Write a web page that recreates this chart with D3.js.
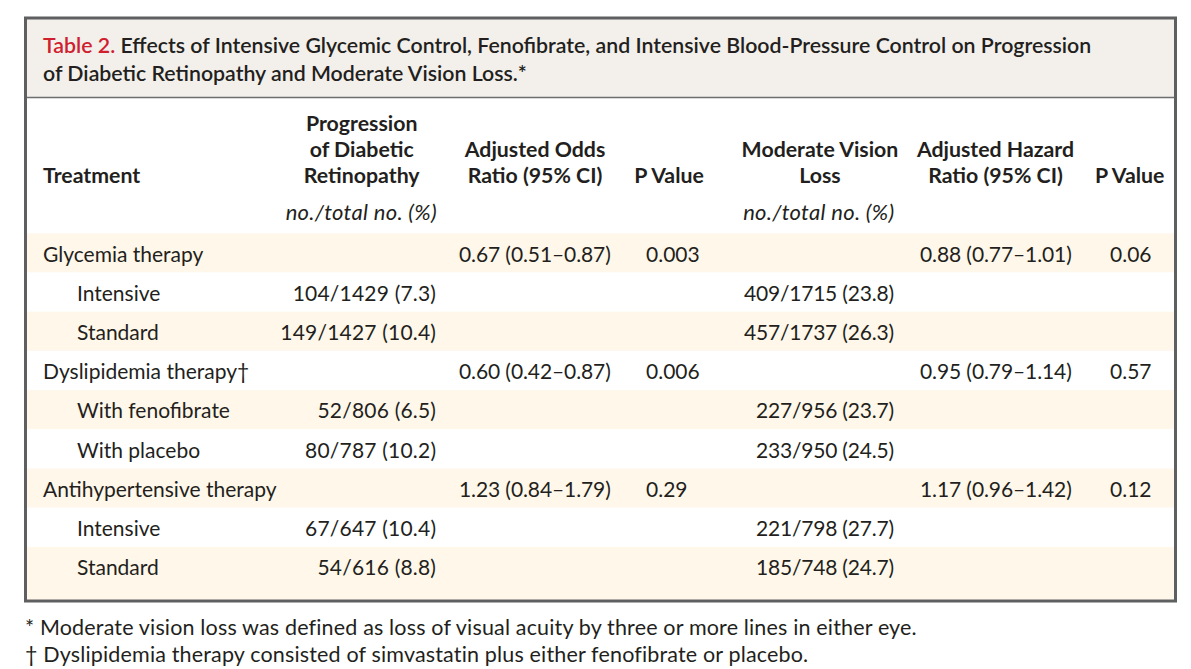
<!DOCTYPE html>
<html><head><meta charset="utf-8">
<script src="https://cdn.jsdelivr.net/npm/d3@7/dist/d3.min.js"></script>
<style>
html,body{margin:0;padding:0;background:#fff;}
svg{display:block;}
text{font-family:Lato,"Open Sans",sans-serif;fill:#231f20;}
</style></head><body>
<svg id="t" width="1191" height="669"></svg>
<script>
// ---- data ----
const groups = ["Glycemia therapy", "Dyslipidemia therapy\u2020", "Antihypertensive therapy"];
const subgroups = [["Intensive", "Standard"], ["With fenofibrate", "With placebo"], ["Intensive", "Standard"]];
const retinopathyNo = [[104, 149], [52, 80], [67, 54]];
const retinopathyTotal = [[1429, 1427], [806, 787], [647, 616]];
const retinopathyPct = [[7.3, 10.4], [6.5, 10.2], [10.4, 8.8]];
const oddsRatio = [0.67, 0.60, 1.23];
const oddsLow = [0.51, 0.42, 0.84];
const oddsHigh = [0.87, 0.87, 1.79];
const oddsP = ["0.003", "0.006", "0.29"];
const visionNo = [[409, 457], [227, 233], [221, 185]];
const visionTotal = [[1715, 1737], [956, 950], [798, 748]];
const visionPct = [[23.8, 26.3], [23.7, 24.5], [27.7, 24.7]];
const hazardRatio = [0.88, 0.95, 1.17];
const hazardLow = [0.77, 0.79, 0.96];
const hazardHigh = [1.01, 1.14, 1.42];
const hazardP = ["0.06", "0.57", "0.12"];
const columnHeaders = [
  ["Treatment"],
  ["Progression", "of Diabetic", "Retinopathy"],
  ["Adjusted Odds", "Ratio (95% CI)"],
  ["P Value"],
  ["Moderate Vision", "Loss"],
  ["Adjusted Hazard", "Ratio (95% CI)"],
  ["P Value"]
];
const unitLabel = "no./total no. (%)";
const titleLead = "Table 2.";
const titleLines = [" Effects of Intensive Glycemic Control, Fenofibrate, and Intensive Blood-Pressure Control on Progression",
  "of Diabetic Retinopathy and Moderate Vision Loss.*"];
const footnotes = ["* Moderate vision loss was defined as loss of visual acuity by three or more lines in either eye.",
  "\u2020 Dyslipidemia therapy consisted of simvastatin plus either fenofibrate or placebo."];

// ---- build rows ----
const f2 = d3.format(".2f"), f1 = d3.format(".1f");
const rows = [];
groups.forEach((g, i) => {
  rows.push({label: g, indent: false,
    c2: f2(oddsRatio[i]) + " (" + f2(oddsLow[i]) + "\u2013" + f2(oddsHigh[i]) + ")",
    c3: oddsP[i],
    c5: f2(hazardRatio[i]) + " (" + f2(hazardLow[i]) + "\u2013" + f2(hazardHigh[i]) + ")",
    c6: hazardP[i]});
  subgroups[i].forEach((s, j) => {
    rows.push({label: s, indent: true,
      c1: retinopathyNo[i][j] + "/" + retinopathyTotal[i][j] + " (" + f1(retinopathyPct[i][j]) + ")",
      c4: visionNo[i][j] + "/" + visionTotal[i][j] + " (" + f1(visionPct[i][j]) + ")"});
  });
});

// ---- layout ----
const svg = d3.select("#t");
const frame = {x0: 25.5, x1: 1175.5, y0: 18, y1: 601};
const cream = "#fff7e9";

// title box
svg.append("rect").attr("x", frame.x0).attr("y", frame.y0).attr("width", frame.x1 - frame.x0).attr("height", 79)
  .attr("fill", "#f3f0eb");
svg.append("line").attr("x1", frame.x0).attr("x2", frame.x1).attr("y1", 97.5).attr("y2", 97.5)
  .attr("stroke", "#6d6e70").attr("stroke-width", 1.3);

// rows
const y = d3.scaleBand().domain(d3.range(rows.length)).range([233.3, 233.3 + 39.2 * rows.length]);
svg.append("g").selectAll("rect").data(rows).join("rect")
  .attr("x", frame.x0).attr("width", frame.x1 - frame.x0)
  .attr("y", (d, i) => y(i))
  .attr("height", (d, i) => i === rows.length - 1 ? frame.y1 - y(i) : y.bandwidth())
  .attr("fill", (d, i) => i % 2 === 0 ? cream : "#ffffff");

// frame
svg.append("rect").attr("x", frame.x0).attr("y", frame.y0).attr("width", frame.x1 - frame.x0)
  .attr("height", frame.y1 - frame.y0).attr("fill", "none").attr("stroke", "#5e5f61").attr("stroke-width", 3);

// title
const tt = svg.append("text").attr("x", 43).attr("y", 52.5).style("font-size", "21.3px").style("font-weight", 600);
tt.append("tspan").text(titleLead).style("fill", "#d0202e");
tt.append("tspan").text(titleLines[0]);
svg.append("text").attr("x", 43).attr("y", 80.5).style("font-size", "21.3px").style("font-weight", 600).text(titleLines[1]);

// columns: anchor x and alignment
const colX = d3.scaleOrdinal().domain(d3.range(7)).range([43, 361.7, 535, 669, 820, 995.5, 1129.7]);
const headerBase = 182.5, lineH = 26;
columnHeaders.forEach((lines, c) => {
  const t = svg.append("text").attr("x", colX(c)).attr("text-anchor", c === 0 ? "start" : "middle")
    .style("font-size", "21.3px").style("font-weight", 700);
  lines.forEach((l, k) => {
    t.append("tspan").attr("x", colX(c)).attr("y", headerBase - (lines.length - 1 - k) * lineH).text(l);
  });
});
[[1, 361.3], [4, 818.8]].forEach(([c, cx]) => {
  svg.append("text").attr("x", cx).attr("y", 220).attr("text-anchor", "middle")
    .style("font-size", "22px").style("font-style", "italic").style("letter-spacing", "0.3px").text(unitLabel);
});

// cell text
const cellSpec = [
  {key: "c1", x: 436, anchor: "end", ls: 0.2},
  {key: "c2", x: 459, anchor: "start", ls: -0.1},
  {key: "c3", x: 646, anchor: "start", ls: 0},
  {key: "c4", x: 894, anchor: "end", ls: -0.2},
  {key: "c5", x: 920, anchor: "start", ls: -0.1},
  {key: "c6", x: 1110, anchor: "start", ls: 0}
];
const body = svg.append("g").style("font-size", "21px");
const baseOff = y.bandwidth() / 2 + 8.7;
body.selectAll("text.lab").data(rows).join("text").attr("class", "lab")
  .attr("x", d => d.indent ? 77 : 43)
  .attr("y", (d, i) => y(i) + baseOff)
  .text(d => d.label);
cellSpec.forEach(s => {
  body.selectAll("text." + s.key).data(rows.filter(r => r[s.key])).join("text").attr("class", s.key)
    .attr("x", s.anchor === "end" ? s.x + s.ls : s.x).attr("text-anchor", s.anchor)
    .style("letter-spacing", s.ls + "px")
    .attr("y", d => y(rows.indexOf(d)) + baseOff)
    .text(d => d[s.key]);
});

// footnotes
svg.selectAll("text.fn").data(footnotes).join("text").attr("class", "fn")
  .attr("x", 25).attr("y", (d, i) => 635 + i * 27)
  .style("font-size", "21.5px").style("letter-spacing", "0.16px").text(d => d);
</script>
</body></html>
